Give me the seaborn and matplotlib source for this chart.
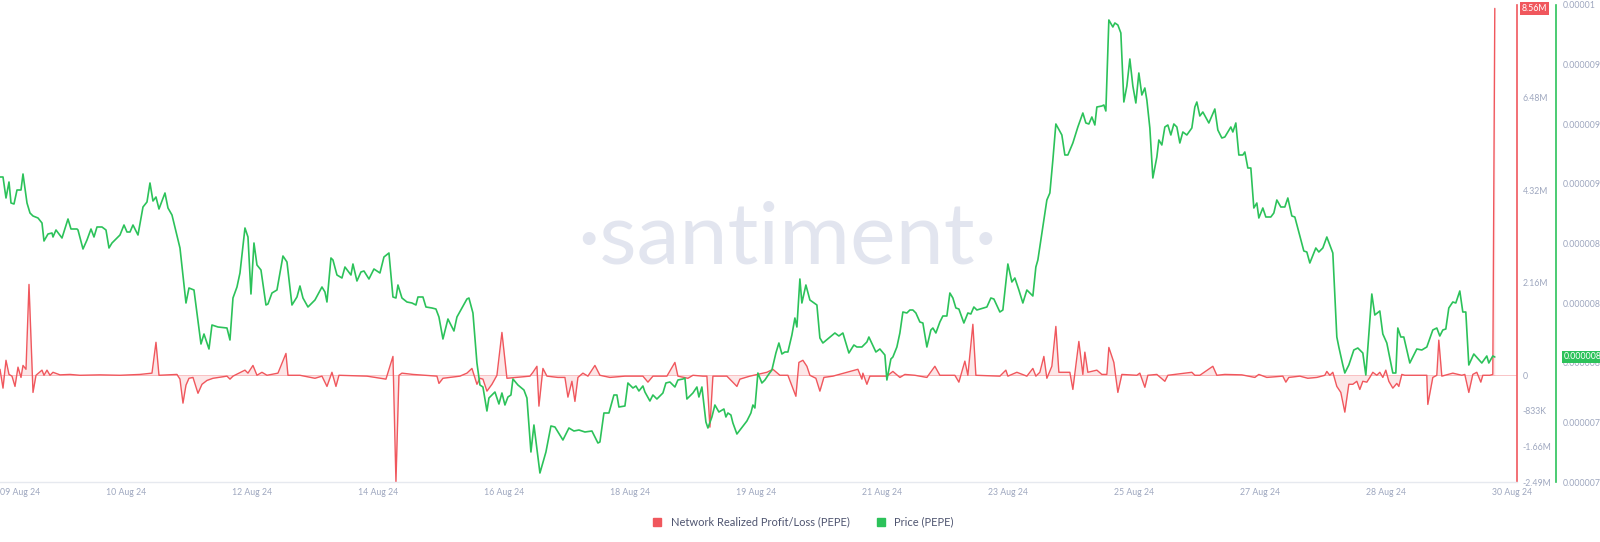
import numpy as np
import pandas as pd
import matplotlib
matplotlib.use("Agg")
import matplotlib.pyplot as plt
import matplotlib.transforms as mtransforms
from matplotlib.lines import Line2D
from matplotlib.ticker import FuncFormatter
import seaborn as sns

# ---------- data ----------
# time is counted in 20-minute steps from 09 Aug 2024 00:00
price_step = [
    0, 3, 6, 9, 11, 14, 17, 21, 23, 27, 30, 33, 38, 42, 44, 48, 52, 53, 56, 62,
    68, 71, 77, 78, 83, 87, 91, 94, 97, 102, 106, 109, 112, 117, 120, 124, 127, 130, 133, 138,
    143, 147, 150, 153, 156, 159, 165, 168, 172, 180, 186, 189, 194, 201, 204, 209, 212, 218, 227, 230,
    233, 237, 240, 245, 248, 251, 254, 257, 261, 266, 268, 272, 277, 283, 287, 292, 297, 300, 303, 308,
    315, 322, 325, 327, 331, 333, 337, 342, 345, 351, 353, 357, 361, 364, 369, 374, 380, 384, 389, 393,
    396, 398, 402, 407, 412, 416, 418, 423, 426, 432, 436, 439, 443, 448, 454, 457, 467, 469, 473, 477,
    480, 483, 487, 489, 495, 499, 502, 505, 508, 511, 513, 518, 524, 527, 531, 534, 540, 546, 551, 555,
    563, 569, 574, 579, 585, 592, 598, 600, 604, 609, 614, 617, 619, 625, 628, 633, 636, 639, 643, 645,
    650, 653, 657, 663, 666, 670, 675, 678, 683, 685, 687, 693, 697, 699, 702, 706, 708, 712, 715, 719,
    724, 726, 728, 731, 733, 737, 747, 751, 753, 755, 758, 762, 765, 769, 772, 776, 779, 782, 785, 788,
    792, 795, 797, 800, 802, 806, 810, 817, 820, 823, 829, 835, 839, 843, 849, 854, 857, 862, 867, 869,
    876, 880, 885, 887, 891, 893, 897, 900, 903, 907, 910, 913, 916, 920, 923, 927, 931, 933, 936, 940,
    943, 947, 950, 953, 956, 959, 964, 968, 971, 974, 977, 987, 991, 994, 1000, 1003, 1008, 1012, 1015, 1019,
    1023, 1027, 1033, 1036, 1038, 1042, 1047, 1050, 1053, 1056, 1062, 1065, 1068, 1073, 1078, 1083, 1086, 1089, 1092, 1095,
    1097, 1102, 1104, 1106, 1109, 1113, 1115, 1118, 1121, 1124, 1127, 1130, 1133, 1136, 1139, 1142, 1145, 1147, 1150, 1153,
    1157, 1159, 1162, 1165, 1168, 1171, 1174, 1177, 1180, 1183, 1187, 1192, 1195, 1197, 1200, 1203, 1209, 1215, 1218, 1222,
    1225, 1231, 1233, 1236, 1239, 1243, 1245, 1248, 1251, 1254, 1257, 1259, 1263, 1266, 1271, 1274, 1277, 1281, 1285, 1288,
    1292, 1295, 1304, 1307, 1310, 1316, 1319, 1323, 1327, 1333, 1337, 1339, 1343, 1345, 1349, 1354, 1358, 1363, 1366, 1372,
    1375, 1380, 1383, 1387, 1393, 1396, 1398, 1401, 1404, 1410, 1417, 1422, 1427, 1433, 1437, 1440, 1443, 1446, 1449, 1453,
    1456, 1460, 1463, 1466, 1469, 1474, 1482, 1487, 1489, 1493, 1495,
]
# price in millionths of a dollar
price_e6 = [
    8.675, 8.675, 8.57, 8.65, 8.545, 8.54, 8.61, 8.61, 8.69, 8.545, 8.495, 8.48, 8.47, 8.445, 8.355, 8.39, 8.395, 8.375, 8.41, 8.37,
    8.465, 8.415, 8.415, 8.41, 8.315, 8.36, 8.415, 8.375, 8.425, 8.425, 8.41, 8.32, 8.345, 8.37, 8.385, 8.435, 8.40, 8.40, 8.435, 8.385,
    8.525, 8.55, 8.645, 8.555, 8.575, 8.515, 8.595, 8.52, 8.485, 8.32, 8.045, 8.12, 8.11, 7.84, 7.89, 7.815, 7.935, 7.925, 7.92, 7.86,
    8.07, 8.125, 8.195, 8.42, 8.375, 8.09, 8.345, 8.235, 8.21, 8.035, 8.04, 8.095, 8.11, 8.28, 8.25, 8.035, 8.075, 8.13, 8.07, 8.025,
    8.06, 8.125, 8.10, 8.05, 8.27, 8.26, 8.185, 8.17, 8.225, 8.185, 8.24, 8.155, 8.20, 8.205, 8.165, 8.215, 8.195, 8.275, 8.295, 8.075,
    8.07, 8.135, 8.07, 8.05, 8.045, 8.035, 8.075, 8.075, 8.025, 8.02, 8.015, 7.975, 7.865, 7.965, 7.905, 7.975, 8.065, 8.07, 7.995, 7.745,
    7.635, 7.625, 7.505, 7.57, 7.60, 7.54, 7.595, 7.535, 7.575, 7.585, 7.665, 7.635, 7.61, 7.57, 7.30, 7.435, 7.195, 7.30, 7.43, 7.425,
    7.36, 7.42, 7.405, 7.41, 7.40, 7.405, 7.345, 7.35, 7.495, 7.495, 7.585, 7.585, 7.525, 7.53, 7.645, 7.62, 7.63, 7.605, 7.63, 7.60,
    7.555, 7.585, 7.565, 7.595, 7.645, 7.65, 7.625, 7.66, 7.665, 7.67, 7.565, 7.595, 7.625, 7.575, 7.625, 7.45, 7.42, 7.475, 7.535, 7.50,
    7.515, 7.475, 7.495, 7.485, 7.445, 7.39, 7.455, 7.495, 7.535, 7.52, 7.695, 7.645, 7.66, 7.69, 7.71, 7.795, 7.845, 7.79, 7.80, 7.80,
    7.885, 7.97, 7.925, 8.165, 8.045, 8.135, 8.06, 8.035, 7.87, 7.845, 7.87, 7.895, 7.88, 7.895, 7.795, 7.835, 7.825, 7.825, 7.85, 7.875,
    7.80, 7.815, 7.785, 7.66, 7.765, 7.775, 7.825, 7.895, 8.00, 7.995, 8.01, 8.01, 7.995, 7.95, 7.945, 7.825, 7.91, 7.92, 7.895, 7.95,
    7.98, 7.98, 8.095, 8.07, 8.02, 8.015, 7.945, 7.995, 7.99, 8.025, 8.01, 8.025, 8.07, 8.065, 8.00, 8.01, 8.24, 8.15, 8.17, 8.11,
    8.045, 8.11, 8.08, 8.225, 8.26, 8.395, 8.56, 8.595, 8.76, 8.94, 8.885, 8.785, 8.785, 8.845, 8.925, 8.995, 8.945, 8.94, 8.975, 8.935,
    9.025, 9.03, 9.035, 9.005, 9.46, 9.425, 9.445, 9.435, 9.395, 9.05, 9.13, 9.265, 9.13, 9.045, 9.195, 9.085, 9.12, 9.06, 8.92, 8.67,
    8.775, 8.86, 8.835, 8.925, 8.935, 8.885, 8.94, 8.925, 8.845, 8.90, 8.885, 8.92, 9.025, 9.05, 8.98, 9.00, 8.945, 9.015, 8.91, 8.87,
    8.875, 8.925, 8.90, 8.945, 8.785, 8.785, 8.80, 8.72, 8.72, 8.52, 8.545, 8.47, 8.52, 8.475, 8.475, 8.495, 8.56, 8.525, 8.525, 8.57,
    8.48, 8.475, 8.305, 8.30, 8.245, 8.32, 8.30, 8.32, 8.375, 8.295, 7.875, 7.825, 7.735, 7.695, 7.735, 7.81, 7.82, 7.795, 7.685, 8.09,
    7.985, 8.005, 7.89, 7.845, 7.695, 7.695, 7.92, 7.875, 7.875, 7.745, 7.815, 7.81, 7.825, 7.91, 7.92, 7.88, 7.91, 7.915, 8.02, 8.05,
    8.045, 8.105, 8.00, 8.00, 7.735, 7.79, 7.745, 7.78, 7.745, 7.78, 7.775,
]

nrpl_step = [
    0, 3, 6, 9, 12, 15, 18, 21, 23, 26, 29, 33, 36, 42, 44, 47, 50, 53, 60, 70,
    80, 100, 120, 140, 152, 156, 159, 177, 180, 183, 186, 189, 193, 198, 202, 207, 213, 227, 230, 233,
    245, 248, 253, 257, 262, 267, 278, 286, 288, 300, 315, 322, 327, 332, 336, 339, 367, 386, 393, 396,
    399, 402, 413, 437, 439, 443, 460, 467, 472, 477, 480, 483, 487, 492, 497, 502, 507, 530, 533, 537,
    539, 543, 547, 558, 565, 568, 572, 575, 578, 583, 588, 595, 600, 610, 625, 643, 648, 653, 667, 675,
    678, 688, 693, 703, 707, 710, 713, 727, 737, 740, 750, 767, 773, 780, 788, 796, 799, 803, 807, 810,
    816, 820, 824, 833, 858, 862, 863, 867, 870, 877, 887, 893, 900, 905, 915, 927, 935, 940, 955, 959,
    965, 968, 973, 976, 1000, 1006, 1008, 1017, 1027, 1033, 1036, 1040, 1044, 1047, 1052, 1056, 1059, 1070, 1073, 1079,
    1083, 1085, 1088, 1097, 1102, 1107, 1109, 1114, 1118, 1122, 1137, 1140, 1145, 1148, 1157, 1165, 1168, 1192, 1195, 1200,
    1213, 1217, 1225, 1242, 1255, 1259, 1267, 1283, 1286, 1289, 1300, 1308, 1317, 1325, 1327, 1330, 1333, 1337, 1341, 1345,
    1349, 1353, 1357, 1360, 1363, 1367, 1370, 1373, 1377, 1380, 1383, 1386, 1389, 1393, 1397, 1399, 1402, 1405, 1427, 1428,
    1433, 1437, 1439, 1442, 1453, 1462, 1465, 1469, 1473, 1477, 1481, 1483, 1490, 1493, 1495,
]
# network realized profit/loss in millions
nrpl_m = [
    0.14, -0.30, 0.35, 0.02, -0.02, -0.26, 0.19, -0.05, 0.23, 0.14, 2.12, -0.40, 0.0, 0.12, 0.0, 0.12, 0.0, 0.07, 0.01, 0.02,
    0.0, 0.01, 0.0, 0.02, 0.05, 0.77, 0.0, 0.02, -0.09, -0.65, -0.23, -0.07, -0.05, -0.42, -0.21, -0.12, -0.07, -0.02, -0.09, -0.02,
    0.12, 0.05, 0.23, 0.0, 0.07, 0.0, 0.05, 0.51, 0.0, 0.0, -0.07, -0.02, -0.26, 0.07, -0.26, 0.0, -0.02, -0.09, 0.44, -2.49,
    0.0, 0.05, 0.02, -0.02, -0.19, -0.07, -0.02, 0.05, 0.16, -0.21, -0.07, -0.09, -0.37, -0.21, 0.0, 1.00, -0.07, -0.02, 0.07, 0.21,
    -0.72, 0.16, -0.02, -0.05, -0.05, -0.51, -0.14, -0.61, -0.05, 0.05, -0.02, 0.23, 0.0, -0.05, -0.02, -0.02, -0.16, -0.02, -0.02, 0.30,
    -0.02, -0.07, 0.0, -0.02, -0.02, -1.21, -0.02, -0.02, -0.26, -0.09, -0.02, 0.07, 0.14, 0.0, 0.0, -0.49, 0.30, 0.35, 0.21, 0.0,
    -0.07, -0.37, -0.05, -0.02, 0.14, -0.09, 0.05, -0.21, -0.02, -0.02, -0.02, 0.09, -0.05, 0.02, 0.0, -0.05, 0.21, 0.0, 0.0, -0.16,
    0.33, 0.0, 1.19, 0.0, -0.02, 0.12, -0.02, 0.07, -0.02, 0.16, -0.02, 0.07, 0.44, -0.07, 0.21, 1.14, 0.07, 0.07, -0.33, 0.79,
    0.02, 0.54, 0.07, 0.12, 0.02, 0.02, 0.65, 0.30, -0.40, 0.02, 0.0, 0.05, -0.28, 0.0, 0.02, -0.14, 0.0, 0.07, 0.0, 0.0,
    0.21, 0.0, 0.02, 0.01, -0.05, 0.02, -0.05, -0.02, -0.16, -0.05, -0.02, -0.07, -0.05, 0.0, 0.09, 0.0, 0.07, -0.26, -0.40, -0.86,
    -0.21, -0.21, -0.14, -0.33, -0.14, -0.16, -0.05, 0.07, 0.0, 0.07, -0.05, 0.12, -0.14, -0.30, -0.19, -0.26, 0.02, 0.0, 0.0, -0.68,
    -0.05, 0.0, 0.82, -0.02, 0.05, 0.0, 0.02, -0.40, 0.02, 0.07, -0.16, 0.0, 0.0, 0.02, 8.56,
]

x_tick_labels = ["09 Aug 24", "10 Aug 24", "12 Aug 24", "14 Aug 24", "16 Aug 24", "18 Aug 24", "19 Aug 24",
                 "21 Aug 24", "23 Aug 24", "25 Aug 24", "27 Aug 24", "28 Aug 24", "30 Aug 24"]
nrpl_ticks_m = [-2.49, -1.66, -0.833, 0, 2.16, 4.32, 6.48]

assert len(price_step) == len(price_e6)
assert len(nrpl_step) == len(nrpl_m)

RED = "#f0575d"
GREEN = "#2cc25a"
GREY = "#9ea7bf"

start = pd.Timestamp("2024-08-09")
price_t = start + pd.to_timedelta(np.array(price_step) * 20, unit="m")
nrpl_t = start + pd.to_timedelta(np.array(nrpl_step) * 20, unit="m")
price = np.array(price_e6) * 1e-6
nrpl = np.array(nrpl_m) * 1e6


def fmt_money(v, pos=None):
    if v == 0:
        return "0"
    if abs(v) >= 1e6:
        return f"{v / 1e6:.2f}M"
    return f"{v / 1e3:.0f}K"


def fmt_price(v, pos=None):
    return f"{v:.6f}".rstrip("0")


sns.set_theme(style="white")
plt.rcParams["font.family"] = ["Lato", "DejaVu Sans"]

fig = plt.figure(figsize=(16, 5.42), dpi=100)
fig.patch.set_facecolor("white")
ax = fig.add_axes([0, 0.1107, 0.948, 0.8801])
ax2 = ax.twinx()

# watermark
ax.text(0.519, 0.459, "·santiment·", transform=ax.transAxes, ha="center", va="baseline",
        fontsize=62, color="#e2e5ef", fontweight="normal", zorder=0)

# ---------- profit / loss ----------
ax.fill_between(nrpl_t, nrpl, 0, color=RED, alpha=0.14, lw=0, zorder=1)
ax.axhline(0, color=RED, alpha=0.35, lw=0.7, zorder=1)
sns.lineplot(x=nrpl_t, y=nrpl, ax=ax, color=RED, lw=1.0, estimator=None, sort=False, zorder=2)

# ---------- price ----------
sns.lineplot(x=price_t, y=price, ax=ax2, color=GREEN, lw=1.2, estimator=None, sort=False)

ax.set_xlim(start, start + pd.Timedelta(minutes=20 * 1517))
ax.set_ylim(-2.49e6, 8.64e6)
ax2.set_ylim(7.15e-6, 9.535e-6)

# x axis
xticks = [start + pd.Timedelta(hours=42 * k) for k in range(len(x_tick_labels))]
ax.set_xticks(xticks)
ax.set_xticklabels(x_tick_labels)
ax.get_xticklabels()[0].set_ha("left")
ax.tick_params(axis="x", length=0, pad=4, labelsize=6.3, labelcolor=GREY)

# red axis (right, first)
ax.yaxis.tick_right()
ax.set_yticks(np.array(nrpl_ticks_m) * 1e6)
ax.yaxis.set_major_formatter(FuncFormatter(fmt_money))
ax.tick_params(axis="y", length=0, pad=4, labelsize=6.3, labelcolor=GREY)

# green axis (right, offset)
ax2.set_yticks(np.linspace(7.15e-6, 9.535e-6, 9))
ax2.yaxis.set_major_formatter(FuncFormatter(fmt_price))
ax2.tick_params(axis="y", length=0, pad=5, labelsize=6.3, labelcolor=GREY)

for s in ["top", "left"]:
    ax.spines[s].set_visible(False)
ax.spines["right"].set_color(RED)
ax.spines["right"].set_linewidth(1.2)
ax.spines["bottom"].set_color("#e6e9ef")
ax.spines["bottom"].set_linewidth(1.0)
for s in ["top", "left", "bottom"]:
    ax2.spines[s].set_visible(False)
ax2.spines["right"].set_position(("axes", 1 + 39 / 1517))
ax2.spines["right"].set_color(GREEN)
ax2.spines["right"].set_linewidth(1.2)

for a in (ax, ax2):
    a.set_xlabel("")
    a.set_ylabel("")
    a.patch.set_visible(False)

# last value markers
tr_red = mtransforms.blended_transform_factory(ax.transAxes, ax.transData)
ax.text(1.0035, nrpl[-1], fmt_money(nrpl[-1]), transform=tr_red, ha="left", va="center",
        fontsize=6.3, color="white", zorder=10, clip_on=False,
        bbox=dict(boxstyle="square,pad=0.2", fc=RED, ec="none"))
tr_green = mtransforms.blended_transform_factory(ax2.transAxes, ax2.transData)
ax2.text(1.031, price[-1], fmt_price(price[-1]), transform=tr_green, ha="left", va="center",
         fontsize=6.3, color="white", zorder=10, clip_on=False,
         bbox=dict(boxstyle="square,pad=0.2", fc=GREEN, ec="none"))

# legend
handles = [
    Line2D([], [], marker="s", ls="", color=RED, markersize=6, label="Network Realized Profit/Loss (PEPE)"),
    Line2D([], [], marker="s", ls="", color=GREEN, markersize=6, label="Price (PEPE)"),
]
fig.legend(handles=handles, loc="center", bbox_to_anchor=(0.5, 0.037), ncol=2, frameon=False,
           fontsize=8, handletextpad=0.2, columnspacing=1.8, labelcolor="#4f5570")

fig.savefig("out.png", dpi=100, facecolor="white")
